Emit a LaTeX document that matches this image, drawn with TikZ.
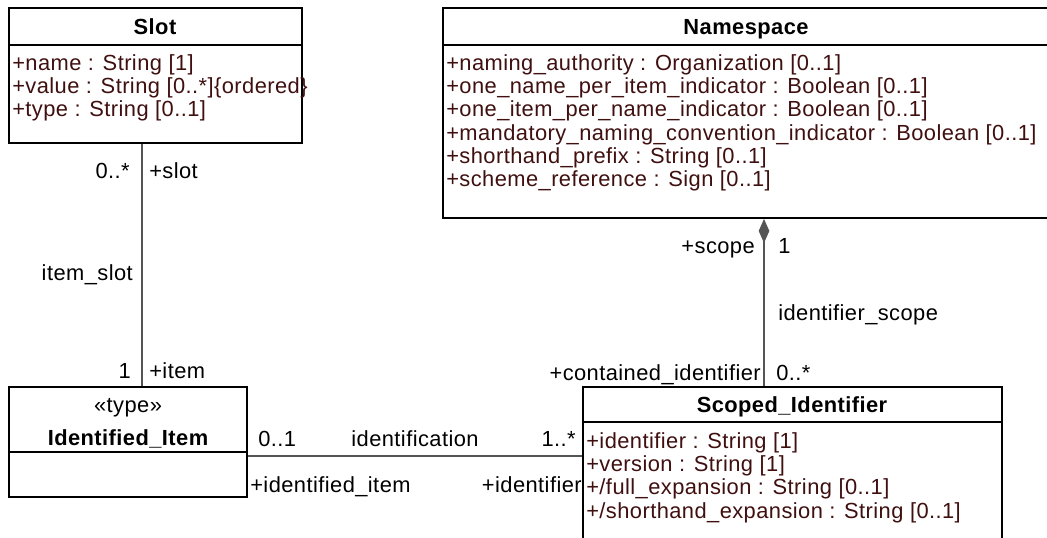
\documentclass[tikz,border=0pt]{standalone}
\usepackage{fontspec}
\setmainfont{Liberation Sans}[LetterSpace=2]
\usetikzlibrary{arrows.meta,fit}
\definecolor{attrc}{RGB}{64,16,16}
\definecolor{connc}{RGB}{85,85,85}
\begin{document}
\begin{tikzpicture}[x=0.75pt,y=-0.75pt,
  font=\fontsize{16.4}{19}\selectfont,
  classbox/.style={draw=black, line width=1.4pt, inner sep=0pt, fill=white},
  divider/.style={draw=black, line width=1.4pt},
  assoc/.style={draw=connc, line width=1.1pt},
  attr/.style={anchor=base west, inner sep=0pt, text=attrc},
  lbl/.style={inner sep=0pt, text=black},
  ttl/.style={anchor=base, inner sep=0pt, font=\fontsize{16.4}{19}\selectfont\bfseries}]
\useasboundingbox (0,0) rectangle (1047,537);
\clip (0,0) rectangle (1047,537);
% class boxes
\node[classbox, fit={(9,8) (302,143)}] (slot) {};
\node[classbox, fit={(443,8) (1052,218)}] (ns) {};
\node[classbox, fit={(9,387) (247,497)}] (item) {};
\node[classbox, fit={(583,387) (1002,545)}] (sid) {};
\draw[divider] (9,45) -- (302,45);
\draw[divider] (443,45) -- (1052,45);
\draw[divider] (9,452) -- (247,452);
\draw[divider] (583,422) -- (1002,422);
% titles
\node[ttl] (slot-t) at (155,34) {Slot};
\node[ttl] (ns-t) at (746,34) {Namespace};
\node[anchor=base, inner sep=0pt] (item-s) at (128,412) {«type»};
\node[ttl] (item-t) at (128,445) {Identified\_Item};
\node[ttl] (sid-t) at (792,412) {Scoped\_Identifier};
% attributes
\node[attr] (slot-a1) at (12,70) {+name : String [1]};
\node[attr] (slot-a2) at (12,93) {+value : String [0..*]\{ordered\}};
\node[attr] (slot-a3) at (12,116.5) {+type : String [0..1]};
\node[attr] (ns-a1) at (446,70) {+naming\_authority : Organization [0..1]};
\node[attr] (ns-a2) at (446,93) {+one\_name\_per\_item\_indicator : Boolean [0..1]};
\node[attr] (ns-a3) at (446,116.5) {+one\_item\_per\_name\_indicator : Boolean [0..1]};
\node[attr] (ns-a4) at (446,140) {+mandatory\_naming\_convention\_indicator : Boolean [0..1]};
\node[attr] (ns-a5) at (446,163) {+shorthand\_prefix : String [0..1]};
\node[attr] (ns-a6) at (446,186.5) {+scheme\_reference : Sign [0..1]};
\node[attr] (sid-a1) at (586,448) {+identifier : String [1]};
\node[attr] (sid-a2) at (586,471) {+version : String [1]};
\node[attr] (sid-a3) at (586,494.5) {+/full\_expansion : String [0..1]};
\node[attr] (sid-a4) at (586,518) {+/shorthand\_expansion : String [0..1]};
% connectors
\coordinate (xs) at (142,0);
\coordinate (xn) at (764,0);
\draw[assoc] (slot.south -| xs) -- (item.north -| xs);
\draw[assoc] (item.east |- 0,456) -- (sid.west |- 0,456);
\draw[assoc, {Diamond[length=18pt, width=8pt, fill=connc]}-] (ns.south -| xn) -- (sid.north -| xn);
% association labels
\node[lbl, anchor=base east] (l1) at (130,178) {0..*};
\node[lbl, anchor=base west] (l2) at (149,178) {+slot};
\node[lbl, anchor=base east] (l3) at (133,280) {item\_slot};
\node[lbl, anchor=base east] (l4) at (131,378) {1};
\node[lbl, anchor=base west] (l5) at (149,378) {+item};
\node[lbl, anchor=base west] (l6) at (258,446) {0..1};
\node[lbl, anchor=base] (l7) at (415,446) {identification};
\node[lbl, anchor=base east] (l8) at (576,446) {1..*};
\node[lbl, anchor=base west] (l9) at (250,492) {+identified\_item};
\node[lbl, anchor=base east] (l10) at (582,492) {+identifier};
\node[lbl, anchor=base east] (l11) at (755,253) {+scope};
\node[lbl, anchor=base west] (l12) at (778,253) {1};
\node[lbl, anchor=base west] (l13) at (778,320) {identifier\_scope};
\node[lbl, anchor=base east] (l14) at (761,380) {+contained\_identifier};
\node[lbl, anchor=base west] (l15) at (776,380) {0..*};
\end{tikzpicture}
\end{document}
